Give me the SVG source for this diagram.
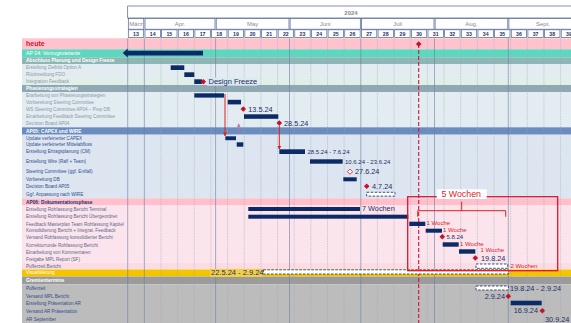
<svg xmlns="http://www.w3.org/2000/svg" width="571" height="323" viewBox="0 0 571 323">
<style>
text{font-family:"Liberation Sans",Arial,sans-serif}
.lb{font-size:4.6px}
.lbh{font-size:4.8px;font-weight:bold}
.g1{fill:#8a99a8}
.g2{fill:#2f4f8f}
.g3{fill:#5a6a90}
.wh{fill:#fff}
.bar{fill:#0c2b66}
.dbar{fill:#fff;stroke:#0c2b66;stroke-width:0.8;stroke-dasharray:2.5 1.5}
.dt{font-size:7.3px;fill:#1c2f66}
.ds{font-size:6px;fill:#1c2f66}
.rd{font-size:6px;fill:#e0202a}
.wk{font-size:5.2px;font-weight:bold;fill:#1c2f66;text-anchor:middle}
.mo{font-size:6px;fill:#8a8a8a;text-anchor:middle}
.hc{fill:#fff;stroke:#4a6090;stroke-width:0.7}
.wl{stroke:#9aa8ba;stroke-width:0.5;stroke-dasharray:1.5 1}
.ml{stroke:#6880a4;stroke-width:0.6}
.red{stroke:#e02020;stroke-width:1;fill:none}
</style>
<defs>
<path id="dia" d="M0,-2.8 L2.8,0 L0,2.8 L-2.8,0 Z" fill="#c8102e"/>
<marker id="ah" viewBox="0 0 6 6" refX="5" refY="3" markerWidth="4" markerHeight="4" orient="auto"><path d="M0,0 L6,3 L0,6 Z" fill="#e02020"/></marker>
<marker id="ahm" viewBox="0 0 6 6" refX="5" refY="3" markerWidth="4" markerHeight="4" orient="auto"><path d="M0,0 L6,3 L0,6 Z" fill="#c07a9a"/></marker>
</defs>

<g id="header">
<rect class="hc" x="127.7" y="6" width="450" height="12"/>
<text x="351" y="14.5" font-size="6" font-weight="bold" fill="#8a8a8a" text-anchor="middle">2024</text>
<rect class="hc" x="128.3" y="18.6" width="15.5" height="10.6"/>
<rect class="hc" x="145" y="18.6" width="70" height="10.6"/>
<rect class="hc" x="216.2" y="18.6" width="72.8" height="10.6"/>
<rect class="hc" x="290.1" y="18.6" width="70.2" height="10.6"/>
<rect class="hc" x="361.4" y="18.6" width="72.6" height="10.6"/>
<rect class="hc" x="435.1" y="18.6" width="72.7" height="10.6"/>
<rect class="hc" x="508.9" y="18.6" width="71" height="10.6"/>
<text class="mo" x="136" y="25.8">März</text>
<text class="mo" x="180" y="25.8">Apr.</text>
<text class="mo" x="252.6" y="25.8">May</text>
<text class="mo" x="325.2" y="25.8">Juni</text>
<text class="mo" x="397.7" y="25.8">Juli</text>
<text class="mo" x="471.4" y="25.8">Aug.</text>
<text class="mo" x="543" y="25.8">Sept.</text>
<g>
<rect class="hc" x="128.3" y="29.8" width="15.4" height="7.8"/>
<rect class="hc" x="144.95" y="29.8" width="15.4" height="7.8"/>
<rect class="hc" x="161.6" y="29.8" width="15.4" height="7.8"/>
<rect class="hc" x="178.25" y="29.8" width="15.4" height="7.8"/>
<rect class="hc" x="194.9" y="29.8" width="15.4" height="7.8"/>
<rect class="hc" x="211.55" y="29.8" width="15.4" height="7.8"/>
<rect class="hc" x="228.2" y="29.8" width="15.4" height="7.8"/>
<rect class="hc" x="244.85" y="29.8" width="15.4" height="7.8"/>
<rect class="hc" x="261.5" y="29.8" width="15.4" height="7.8"/>
<rect class="hc" x="278.15" y="29.8" width="15.4" height="7.8"/>
<rect class="hc" x="294.8" y="29.8" width="15.4" height="7.8"/>
<rect class="hc" x="311.45" y="29.8" width="15.4" height="7.8"/>
<rect class="hc" x="328.1" y="29.8" width="15.4" height="7.8"/>
<rect class="hc" x="344.75" y="29.8" width="15.4" height="7.8"/>
<rect class="hc" x="361.4" y="29.8" width="15.4" height="7.8"/>
<rect class="hc" x="378.05" y="29.8" width="15.4" height="7.8"/>
<rect class="hc" x="394.7" y="29.8" width="15.4" height="7.8"/>
<rect class="hc" x="411.35" y="29.8" width="15.4" height="7.8"/>
<rect class="hc" x="428" y="29.8" width="15.4" height="7.8"/>
<rect class="hc" x="444.65" y="29.8" width="15.4" height="7.8"/>
<rect class="hc" x="461.3" y="29.8" width="15.4" height="7.8"/>
<rect class="hc" x="477.95" y="29.8" width="15.4" height="7.8"/>
<rect class="hc" x="494.6" y="29.8" width="15.4" height="7.8"/>
<rect class="hc" x="511.25" y="29.8" width="15.4" height="7.8"/>
<rect class="hc" x="527.9" y="29.8" width="15.4" height="7.8"/>
<rect class="hc" x="544.55" y="29.8" width="15.4" height="7.8"/>
<rect class="hc" x="561.2" y="29.8" width="15.4" height="7.8"/>
</g>
<g>
<text class="wk" x="136" y="35.6">13</text>
<text class="wk" x="152.65" y="35.6">14</text>
<text class="wk" x="169.3" y="35.6">15</text>
<text class="wk" x="185.95" y="35.6">16</text>
<text class="wk" x="202.6" y="35.6">17</text>
<text class="wk" x="219.25" y="35.6">18</text>
<text class="wk" x="235.9" y="35.6">19</text>
<text class="wk" x="252.55" y="35.6">20</text>
<text class="wk" x="269.2" y="35.6">21</text>
<text class="wk" x="285.85" y="35.6">22</text>
<text class="wk" x="302.5" y="35.6">23</text>
<text class="wk" x="319.15" y="35.6">24</text>
<text class="wk" x="335.8" y="35.6">25</text>
<text class="wk" x="352.45" y="35.6">26</text>
<text class="wk" x="369.1" y="35.6">27</text>
<text class="wk" x="385.75" y="35.6">28</text>
<text class="wk" x="402.4" y="35.6">29</text>
<text class="wk" x="419.05" y="35.6">30</text>
<text class="wk" x="435.7" y="35.6">31</text>
<text class="wk" x="452.35" y="35.6">32</text>
<text class="wk" x="469" y="35.6">33</text>
<text class="wk" x="485.65" y="35.6">34</text>
<text class="wk" x="502.3" y="35.6">35</text>
<text class="wk" x="518.95" y="35.6">36</text>
<text class="wk" x="535.6" y="35.6">37</text>
<text class="wk" x="552.25" y="35.6">38</text>
<text class="wk" x="568.9" y="35.6">39</text>
</g>
</g>

<g id="rows">
<rect x="22" y="38.3" width="549" height="11" fill="#ffc3ce"/>
<rect x="22" y="49.3" width="549" height="8" fill="#5dd8c0"/>
<rect x="22" y="57.3" width="549" height="6.7" fill="#8db6b4"/>
<rect x="22" y="64" width="549" height="14" fill="#e3ecf1"/>
<rect x="22" y="78" width="549" height="7" fill="#e2eee8"/>
<rect x="22" y="85" width="549" height="7" fill="#8ea9b4"/>
<rect x="22" y="92" width="549" height="35.3" fill="#e3ecf1"/>
<rect x="22" y="127.3" width="549" height="7.4" fill="#6a8cbf"/>
<rect x="22" y="134.7" width="549" height="63.6" fill="#dde6f0"/>
<rect x="22" y="198.3" width="549" height="7.2" fill="#ffc0cc"/>
<rect x="22" y="205.5" width="549" height="57" fill="#fbe4eb"/>
<rect x="22" y="262.5" width="549" height="7" fill="#fbdce5"/>
<rect x="22" y="269.5" width="549" height="7" fill="#f5c400"/>
<rect x="22" y="276.5" width="549" height="7.8" fill="#9b9b9b"/>
<rect x="22" y="284.3" width="549" height="38.7" fill="#bcbcbc"/>

<text x="26" y="46.2" font-size="7" font-weight="bold" fill="#e0102a">heute</text>
<text class="wh" x="26" y="55.2" font-size="5.2">AP 04: Vorzugsvariante</text>
<text class="lbh wh" x="26" y="62.4">Abschluss Planung und Design Freeze</text>
<text class="lb g1" x="26" y="69.2">Erstellung Zielbild Option A</text>
<text class="lb g1" x="26" y="76.2">Rückmeldung FDO</text>
<text class="lb g1" x="26" y="83.2">Integration Feedback</text>
<text class="lbh wh" x="26" y="90.3">Phasierungsstrategien</text>
<text class="lb g1" x="26" y="97.2">Erarbeitung von Phasierungsstrategien</text>
<text class="lb g1" x="26" y="104.2">Vorbereitung Steering Committee</text>
<text class="lb g1" x="26" y="111.2">WS Steering Committee AP04 – Prep DB</text>
<text class="lb g1" x="26" y="118.2">Einarbeitung Feedback Steering Committee</text>
<text class="lb g1" x="26" y="125.4">Decision Board AP04</text>
<text class="lbh wh" x="26" y="132.8">AP05: CAPEX und WIRE</text>
<text class="lb g2" x="26" y="140">Update verfeinerter CAPEX</text>
<text class="lb g2" x="26" y="146.4">Update verfeinerter Mittelabfluss</text>
<text class="lb g2" x="26" y="153.4">Erstellung Ertragsplanung (CM)</text>
<text class="lb g2" x="26" y="163">Erstellung Wire (Ralf + Team)</text>
<text class="lb g2" x="26" y="173.4">Steering Committee (ggf. Entfall)</text>
<text class="lb g2" x="26" y="180.7">Vorbereitung DB</text>
<text class="lb g2" x="26" y="188">Decision Board AP05</text>
<text class="lb g2" x="26" y="195.7">Ggf. Anpassung nach WIRE</text>
<text class="lbh" x="26" y="203.7" fill="#1c3070">AP06: Dokumentationsphase</text>
<text class="lb g3" x="26" y="210.7">Erstellung Rohfassung Bericht Terminal</text>
<text class="lb g3" x="26" y="218.4">Erstellung Rohfassung Bericht Übergeordnet</text>
<text class="lb g3" x="26" y="225.7">Feedback Masterplan Team Rohfassung Kapitel</text>
<text class="lb g3" x="26" y="232.4">Konsolidierung Bericht + Integrat. Feedback</text>
<text class="lb g3" x="26" y="239.4">Versand Rohfassung konsolidierter Bericht</text>
<text class="lb g3" x="26" y="246.7">Korrekturrunde Rohfassung Bericht</text>
<text class="lb g3" x="26" y="254">Einarbeitung von Kommentaren</text>
<text class="lb g3" x="26" y="260.7">Freigabe MPL Report (SF)</text>
<text class="lb g3" x="26" y="267.7">Pufferzeit Bericht</text>
<text class="lb wh" x="26" y="274.4">Visualisierung</text>
<text x="26" y="282.1" font-size="5" font-weight="bold" fill="#fff">Gremientermine</text>
<text class="lb g2" x="26" y="290">Pufferzeit</text>
<text class="lb g2" x="26" y="298.4">Versand MPL Bericht</text>
<text class="lb g2" x="26" y="304.7">Erstellung Präsentation AR</text>
<text class="lb g2" x="26" y="312.7">Versand AR Präsentation</text>
<text class="lb g2" x="26" y="320.7">AR September</text>
</g>

<g id="grid">
<line class="wl" x1="161" y1="38.3" x2="161" y2="323"/>
<line class="wl" x1="177.65" y1="38.3" x2="177.65" y2="323"/>
<line class="wl" x1="194.3" y1="38.3" x2="194.3" y2="323"/>
<line class="wl" x1="210.95" y1="38.3" x2="210.95" y2="323"/>
<line class="wl" x1="227.6" y1="38.3" x2="227.6" y2="323"/>
<line class="wl" x1="244.25" y1="38.3" x2="244.25" y2="323"/>
<line class="wl" x1="260.9" y1="38.3" x2="260.9" y2="323"/>
<line class="wl" x1="277.55" y1="38.3" x2="277.55" y2="323"/>
<line class="wl" x1="294.2" y1="38.3" x2="294.2" y2="323"/>
<line class="wl" x1="310.85" y1="38.3" x2="310.85" y2="323"/>
<line class="wl" x1="327.5" y1="38.3" x2="327.5" y2="323"/>
<line class="wl" x1="344.15" y1="38.3" x2="344.15" y2="323"/>
<line class="wl" x1="377.45" y1="38.3" x2="377.45" y2="323"/>
<line class="wl" x1="394.1" y1="38.3" x2="394.1" y2="323"/>
<line class="wl" x1="410.75" y1="38.3" x2="410.75" y2="323"/>
<line class="wl" x1="427.4" y1="38.3" x2="427.4" y2="323"/>
<line class="wl" x1="444.05" y1="38.3" x2="444.05" y2="323"/>
<line class="wl" x1="460.7" y1="38.3" x2="460.7" y2="323"/>
<line class="wl" x1="477.35" y1="38.3" x2="477.35" y2="323"/>
<line class="wl" x1="494" y1="38.3" x2="494" y2="323"/>
<line class="wl" x1="510.65" y1="38.3" x2="510.65" y2="323"/>
<line class="wl" x1="527.3" y1="38.3" x2="527.3" y2="323"/>
<line class="wl" x1="543.95" y1="38.3" x2="543.95" y2="323"/>
<line class="wl" x1="560.6" y1="38.3" x2="560.6" y2="323"/>
<line class="ml" x1="127.7" y1="38.3" x2="127.7" y2="323"/>
<line class="ml" x1="144.35" y1="38.3" x2="144.35" y2="323"/>
<line class="ml" x1="215.6" y1="38.3" x2="215.6" y2="323"/>
<line class="ml" x1="289.5" y1="38.3" x2="289.5" y2="323"/>
<line class="ml" x1="360.8" y1="38.3" x2="360.8" y2="323"/>
<line class="ml" x1="434.5" y1="38.3" x2="434.5" y2="323"/>
<line class="ml" x1="508.3" y1="38.3" x2="508.3" y2="323"/>
</g>

<g id="today">
<line x1="418.7" y1="44" x2="418.7" y2="323" stroke="#d0143c" stroke-width="1.1" stroke-dasharray="4 2"/>
<use href="#dia" x="418.7" y="44"/>
</g>

<g id="n_ap04"><path class="bar" d="M122.7,53.1 L127.7,48.6 L127.7,50.8 L203,50.8 L203,55.4 L127.7,55.4 L127.7,57.6 Z"/></g>
<g id="n_zielbild"><rect class="bar" x="170.7" y="65.3" width="13.6" height="4.7"/></g>
<g id="n_fdo"><rect class="bar" x="184.3" y="72.3" width="10" height="4.7"/></g>
<g id="n_integration"><rect class="bar" x="194.3" y="79.3" width="7.6" height="4.7"/><use href="#dia" x="203.3" y="81.7"/><rect x="207" y="77.6" width="50" height="8" fill="#dde8f0"/><text x="208.5" y="84.3" font-size="7.5" fill="#1c2f66">Design Freeze</text></g>
<g id="n_erarbeitung"><rect class="bar" x="194.3" y="93.3" width="29.7" height="4.3"/></g>
<g id="n_vorbsc"><rect class="bar" x="227.7" y="99.8" width="13.3" height="4.6"/></g>
<g id="n_ws"><use href="#dia" x="243.3" y="109"/><text class="dt" x="248.3" y="111.8">13.5.24</text></g>
<g id="n_einarb"><rect class="bar" x="244" y="114.3" width="34.3" height="4.5"/></g>
<g id="n_db04"><use href="#dia" x="279.3" y="123"/><text class="dt" x="284" y="125.6">28.5.24</text></g>
<g id="n_capex"><rect class="bar" x="225.3" y="136.3" width="10.7" height="3.9"/></g>
<g id="n_ma"><rect class="bar" x="236.7" y="142.3" width="6.6" height="4.4"/></g>
<g id="n_ertrag"><rect class="bar" x="279.3" y="149.3" width="25.7" height="4.7"/><text class="ds" x="307.5" y="154">28.5.24 - 7.6.24</text></g>
<g id="n_wire"><rect class="bar" x="310" y="159.3" width="32.7" height="4.4"/><text class="ds" x="345" y="163.8">10.6.24 - 23.6.24</text></g>
<g id="n_sc05"><path d="M350,169.1 L352.6,171.7 L350,174.3 L347.4,171.7 Z" fill="#fff" stroke="#c8102e" stroke-width="0.8"/><text class="dt" x="355" y="174.2">27.6.24</text></g>
<g id="n_vorbdb"><rect class="bar" x="343.3" y="177.3" width="13.4" height="4"/></g>
<g id="n_db05"><use href="#dia" x="366.7" y="186.3"/><text class="dt" x="372" y="188.8">4.7.24</text></g>
<g id="n_anpassung"><rect class="dbar" x="366.7" y="192.3" width="28.3" height="3.8"/></g>

<g id="n_terminal"><rect class="bar" x="248.3" y="207" width="111.7" height="4"/><text class="dt" x="362" y="211.4">7 Wochen</text></g>
<g id="n_uebergeordnet"><rect class="bar" x="248.3" y="214.7" width="160" height="4"/></g>
<g id="n_feedback"><rect class="bar" x="409.3" y="221.7" width="16" height="4.3"/><text class="rd" x="426.5" y="224.6">1 Woche</text></g>
<g id="n_konsol"><rect class="bar" x="425.7" y="228.7" width="16.3" height="4"/><text class="rd" x="443" y="231.5">1 Woche</text></g>
<g id="n_versand"><use href="#dia" x="442.3" y="236.7"/><text class="ds" x="446.5" y="238.9">5.8.24</text></g>
<g id="n_korrektur"><rect class="bar" x="442.7" y="242.3" width="16" height="4.4"/><text class="rd" x="460" y="245.5">1 Woche</text></g>
<g id="n_einkomm"><rect class="bar" x="459" y="249.3" width="16.3" height="4.4"/><text class="rd" x="480.5" y="252.4">1 Woche</text></g>
<g id="n_freigabe"><use href="#dia" x="475.3" y="258"/><text class="dt" x="481" y="260.6">19.8.24</text></g>
<g id="n_pufferbericht"><rect class="dbar" x="476" y="264" width="31.7" height="4.3"/><text class="rd" x="510.5" y="268.3">2 Wochen</text></g>

<g id="n_visual"><rect x="210" y="268.9" width="53" height="8" fill="#f2d046"/><text x="211" y="275.3" font-size="7.5" fill="#1c2f66">22.5.24 - 2.9.24</text><rect class="dbar" x="263.3" y="269.8" width="245" height="4.2"/></g>

<g id="n_5wochen">
<rect x="407.7" y="196.7" width="150" height="74" fill="none" stroke="#e8102a" stroke-width="1.3"/>
<rect x="436.7" y="189.3" width="50" height="9.7" fill="#fff"/>
<text x="441.5" y="197.4" font-size="8.8" fill="#e0202a">5 Wochen</text>
</g>

<g id="n_puffer"><rect class="dbar" x="476" y="286" width="32.3" height="4"/><text class="dt" x="510" y="291">19.8.24 - 2.9.24</text></g>
<g id="n_mpl"><use href="#dia" x="508.3" y="296.3"/><text class="dt" x="505" y="298.8" text-anchor="end">2.9.24</text></g>
<g id="n_praes"><rect class="bar" x="510.7" y="300.7" width="31" height="4.6"/></g>
<g id="n_arpraes"><use href="#dia" x="542.3" y="310.7"/><text class="dt" x="538" y="313.2" text-anchor="end">16.9.24</text></g>
<g id="n_arsept"><text class="dt" x="545" y="321.5">30.9.24</text></g>

<g id="connectors">
<line class="red" x1="225" y1="94" x2="225" y2="135.8" marker-end="url(#ah)"/>
<line class="red" x1="279.3" y1="125.5" x2="279.3" y2="149" marker-end="url(#ah)"/>
<line x1="238.7" y1="133.5" x2="238.7" y2="124" stroke="#c07a9a" stroke-width="1" marker-end="url(#ahm)"/>
<path class="red" d="M417.7,216.7 L417.7,210.7 L505.7,210.7 L505.7,216.7 M461.7,210.7 L461.7,201.7"/>
</g>
</svg>
